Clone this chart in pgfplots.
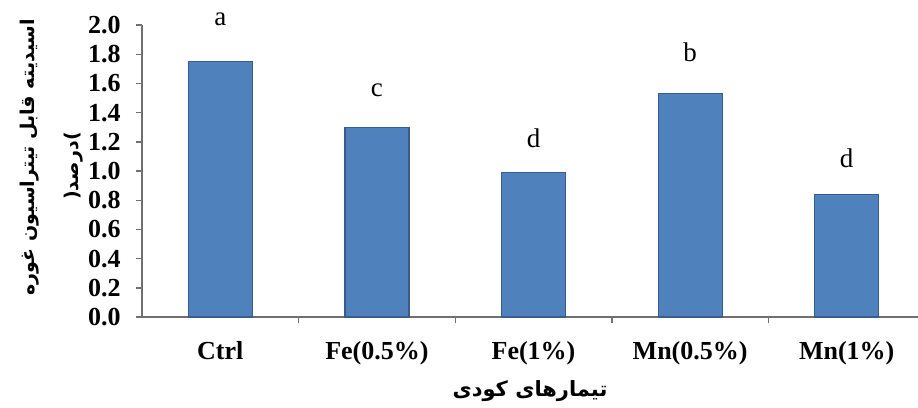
\documentclass[border=0pt]{standalone}
\usepackage{pgfplots}
\pgfplotsset{compat=1.18}
\usepackage{fontspec}
\setmainfont{Liberation Serif}
\newfontfamily\arabicfont[Script=Arabic]{DejaVu Sans}
\TeXXeTstate=1
\definecolor{barblue}{HTML}{4F81BD}
\definecolor{baredge}{HTML}{385D8A}
\definecolor{axisgray}{HTML}{707070}

\pgfplotstableread{
x y
0 1.75
1 1.30
2 0.99
3 1.53
4 0.84
}\acidity

% letters of the mean comparison, placed above each bar
\pgfplotstableread{
x y lab
0 2.04 a
1 1.555 c
2 1.226 d
3 1.81 b
4 1.09 d
}\letters

\begin{document}
\begin{tikzpicture}
\begin{axis}[
  at={(0,0)}, anchor=south west,
  scale only axis, width=388pt, height=146pt,
  xmin=-0.5, xmax=4.455, ymin=0, ymax=2,
  axis lines*=left,
  axis line style={axisgray, line width=0.7pt},
  clip=false,
  tick align=outside,
  major tick length=3.2pt,
  tick style={axisgray, line width=0.7pt},
  ytick={0,0.2,0.4,0.6,0.8,1,1.2,1.4,1.6,1.8,2},
  yticklabel shift=4pt,
  yticklabel style={font=\fontsize{13}{13}\selectfont\bfseries,
    /pgf/number format/.cd, fixed, fixed zerofill, precision=1, assume math mode=true},
  xtick={0.5,1.5,2.5,3.5}, xticklabels={},
  extra x ticks={0,1,2,3,4},
  extra x tick labels={Ctrl,Fe(0.5\%),Fe(1\%),Mn(0.5\%),Mn(1\%)},
  extra x tick style={major tick length=0pt,
    xticklabel style={font=\fontsize{13}{13}\selectfont\bfseries, yshift=-8.5pt}},
  xlabel={\arabicfont\bfseries\beginR تیمارهای کودی\endR},
  xlabel style={font=\fontsize{10.5}{10.5}\selectfont, at={(axis description cs:0.5,0)}, anchor=center, yshift=-37pt},
]
\addplot[ybar, bar width=32pt, fill=barblue, draw=baredge, line width=0.6pt] table {\acidity};
\addplot[draw=none, mark=none, nodes near coords, point meta=explicit symbolic,
  every node near coord/.style={anchor=center, font=\fontsize{13.5}{13.5}\selectfont}]
  table[meta=lab] {\letters};
\end{axis}
\node[rotate=90, font=\fontsize{9.5}{9.5}\selectfont\arabicfont\bfseries] at (-56pt,80pt) {\beginR اسیدیته قابل تیتراسیون غوره\endR};
\node[rotate=90, font=\fontsize{9.5}{9.5}\selectfont\arabicfont\bfseries] at (-34pt,75.5pt) {(\beginR درصد\endR)};
\pgfresetboundingbox
\path (-71pt,-45.5pt) rectangle (388pt,158.5pt);
\end{tikzpicture}
\end{document}
